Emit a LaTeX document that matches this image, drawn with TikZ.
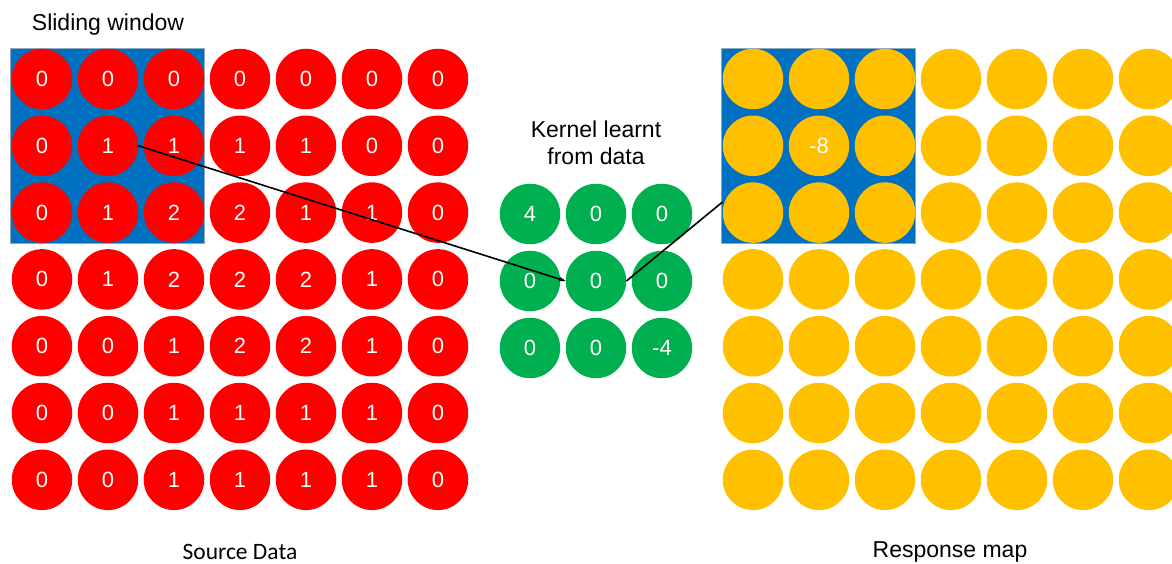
\documentclass[tikz,border=0pt]{standalone}
\usepackage{fontspec}
\setmainfont{Liberation Sans}
\newfontfamily\calibfont{Carlito}
\usetikzlibrary{arrows.meta}
\definecolor{cred}{HTML}{FF0000}
\definecolor{cgreen}{HTML}{00B050}
\definecolor{cyellow}{HTML}{FFC000}
\definecolor{cblue}{HTML}{0070C0}
\definecolor{cborder}{HTML}{8FA8C0}
\begin{document}
\begin{tikzpicture}[x=1pt,y=-1pt,
  dot/.style={circle,inner sep=0pt,minimum size=60.5pt,text=white,font=\fontsize{22}{26}\selectfont},
  reddot/.style={dot,fill=cred},
  greendot/.style={dot,fill=cgreen},
  yellowdot/.style={dot,fill=cyellow},
  window/.style={rectangle,fill=cblue,draw=cborder,line width=0.6pt,inner sep=0pt,minimum width=194pt,minimum height=195pt},
  label/.style={inner sep=0pt,font=\fontsize{23}{27}\selectfont},
  link/.style={line width=1.6pt,black}]
\useasboundingbox (0,0) rectangle (1172,564);
\clip (0,0) rectangle (1172,564);
% windows
\node[window] (swin) at (107.5,145.5) {};
\node[window] (rwin) at (818.5,145.5) {};
% source data
\foreach \row [count=\i from 0] in {{0,0,0,0,0,0,0},{0,1,1,1,1,0,0},{0,1,2,2,1,1,0},{0,1,2,2,2,1,0},{0,0,1,2,2,1,0},{0,0,1,1,1,1,0},{0,0,1,1,1,1,0}}{
  \foreach \v [count=\j from 0] in \row {
    \node[reddot] (r-\i-\j) at ({42+66*\j},{79+66.8*\i}) {\v};
  }
}
% kernel
\foreach \row [count=\i from 0] in {{4,0,0},{0,0,0},{0,0,-4}}{
  \foreach \v [count=\j from 0] in \row {
    \node[greendot] (k-\i-\j) at ({530+66*\j},{214+67*\i}) {\v};
  }
}
% response map
\foreach \i in {0,...,6}{
  \foreach \j in {0,...,6}{
    \node[yellowdot] (y-\i-\j) at ({753+66*\j},{79+66.8*\i}) {};
  }
}
\node[font=\fontsize{22}{26}\selectfont,text=white] (m) at (y-1-1) {-8};
% labels
\node[label] (t1) at (108,25) {Sliding window};
\node[label,align=center] (t2) at (596,143) {Kernel learnt\\[0pt]from data};
\node[label] (t3) at (240,552) {\calibfont\fontsize{23.5}{27}\selectfont Source Data};
\node[label] (t4) at (950,552) {Response map};
% connectors
\coordinate (rend) at (722.5,202);
\draw[link,-{Stealth[length=7pt,width=5pt]}] (r-1-1.east) -- (k-1-1.west);
\draw[link] (k-1-1.east) -- (rend);
\end{tikzpicture}
\end{document}
